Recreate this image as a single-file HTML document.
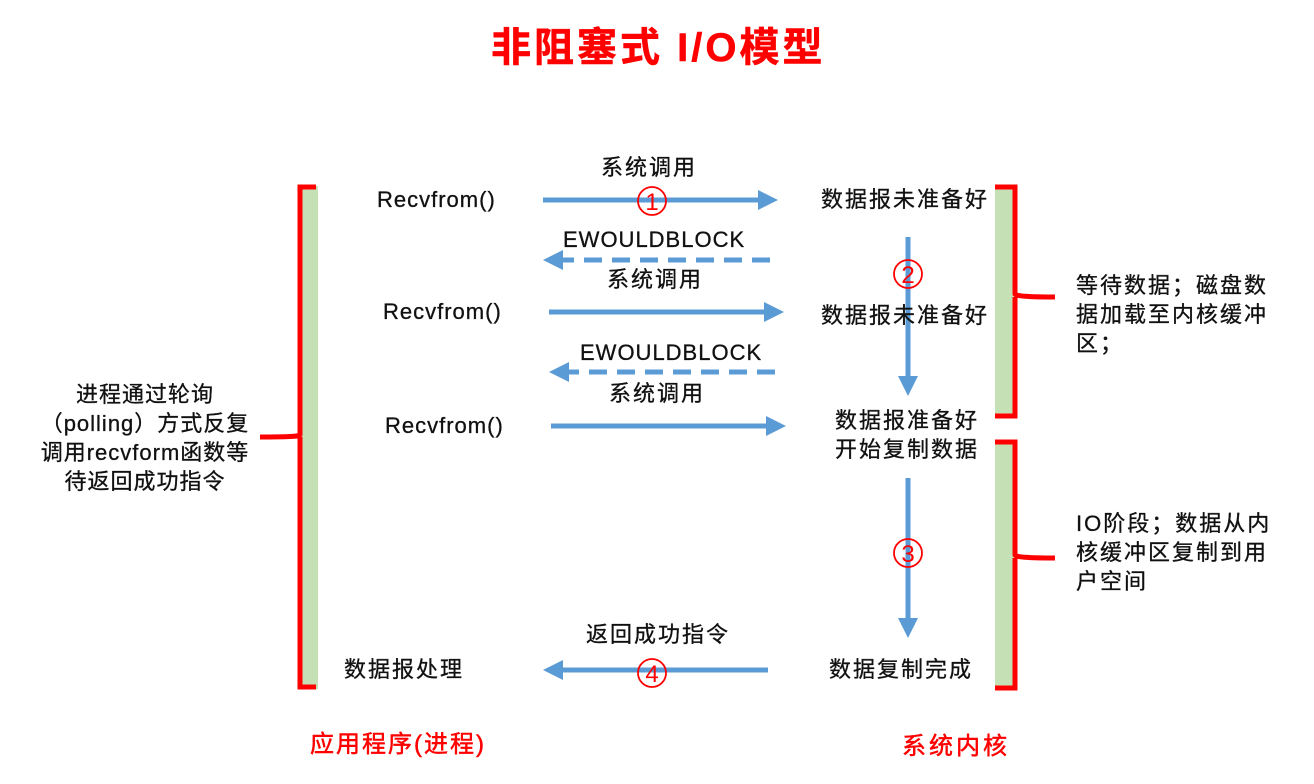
<!DOCTYPE html>
<html><head><meta charset="utf-8"><style>
body{margin:0;width:1314px;height:784px;background:#fff;position:relative;overflow:hidden;font-family:"Liberation Sans","Noto Sans CJK SC",sans-serif;}
.t{position:absolute;font-size:22px;color:#111;white-space:nowrap;line-height:1;letter-spacing:2px;-webkit-text-stroke:0.3px #111;}
.l{letter-spacing:1px;}
.r{color:#f00;-webkit-text-stroke:0.5px #f00;}
svg{position:absolute;left:0;top:0;}
</style></head><body>
<svg width="1314" height="784">
<g stroke="#5b9bd5" stroke-width="5" fill="none">
<line x1="543" y1="200" x2="770" y2="200"/>
<line x1="770" y1="260" x2="560" y2="260" stroke-dasharray="18,10"/>
<line x1="549" y1="312" x2="775" y2="312"/>
<line x1="775" y1="372" x2="566" y2="372" stroke-dasharray="18,10"/>
<line x1="551" y1="426" x2="777" y2="426"/>
<line x1="908" y1="237" x2="908" y2="388"/>
<line x1="908" y1="478" x2="908" y2="625"/>
<line x1="768" y1="670" x2="551" y2="670"/>
</g>
<g fill="#5b9bd5">
<path d="M758,190 L778,200 L758,210z"/>
<path d="M563,250 L543,260 L563,270z"/>
<path d="M764,302 L784,312 L764,322z"/>
<path d="M569,362 L549,372 L569,382z"/>
<path d="M766,416 L786,426 L766,436z"/>
<path d="M898,376 L908,396 L918,376z"/>
<path d="M898,618 L908,638 L918,618z"/>
<path d="M563,660 L543,670 L563,680z"/>
</g>
<rect x="302" y="186" width="16" height="503" fill="#c5e0b4"/>
<rect x="995" y="186" width="18" height="232" fill="#c5e0b4"/>
<rect x="995" y="441" width="18" height="248" fill="#c5e0b4"/>
<g stroke="#f00" stroke-width="5" fill="none">
<path d="M316,187 H300 V435 Q300,437 260,437 M300,437 V687 H316"/>
<path d="M995,187 H1015 V294 Q1015,297 1055,297 M1015,297 V416 H995"/>
<path d="M995,442 H1015 V555 Q1015,558 1055,558 M1015,558 V688 H995"/>
</g>
<g stroke="#f00" stroke-width="1.8" fill="none">
<circle cx="652" cy="201" r="14"/>
<circle cx="908" cy="274" r="14"/>
<circle cx="908" cy="553" r="14"/>
<circle cx="652" cy="673" r="14"/>
</g>
<g fill="#f00" font-size="24" font-family="Liberation Sans,sans-serif" text-anchor="middle">
<text x="652" y="210">1</text><text x="908" y="283">2</text><text x="908" y="562">3</text><text x="652" y="682">4</text>
</g>
</svg>
<div class="t r" style="left:491px;top:28px;font-size:40px;font-weight:bold;letter-spacing:3px;">非阻塞式 I/O模型</div>
<div class="t" style="left:601px;top:157px;">系统调用</div>
<div class="t l" style="left:377px;top:189px;">Recvfrom()</div>
<div class="t l" style="left:563px;top:229px;">EWOULDBLOCK</div>
<div class="t" style="left:607px;top:269px;">系统调用</div>
<div class="t l" style="left:383px;top:301px;">Recvfrom()</div>
<div class="t l" style="left:580px;top:342px;">EWOULDBLOCK</div>
<div class="t" style="left:609px;top:383px;">系统调用</div>
<div class="t l" style="left:385px;top:415px;">Recvfrom()</div>
<div class="t" style="left:586px;top:624px;">返回成功指令</div>
<div class="t" style="left:344px;top:659px;">数据报处理</div>
<div class="t" style="left:821px;top:189px;">数据报未准备好</div>
<div class="t" style="left:821px;top:305px;">数据报未准备好</div>
<div class="t" style="left:835px;top:410px;">数据报准备好</div>
<div class="t" style="left:835px;top:439px;">开始复制数据</div>
<div class="t" style="left:829px;top:659px;">数据复制完成</div>
<div class="t" style="left:1076px;top:271px;line-height:29px;">等待数据；磁盘数<br>据加载至内核缓冲<br>区；</div>
<div class="t" style="left:1076px;top:509px;line-height:29px;">IO阶段；数据从内<br>核缓冲区复制到用<br>户空间</div>
<div class="t" style="left:20px;top:380px;line-height:29px;text-align:center;width:250px;letter-spacing:1px;">进程通过轮询<br>（polling）方式反复<br>调用recvform函数等<br>待返回成功指令</div>
<div class="t r" style="left:310px;top:733px;font-size:24px;letter-spacing:2px;">应用程序(进程)</div>
<div class="t r" style="left:902px;top:735px;font-size:24px;letter-spacing:3px;">系统内核</div>
</body></html>
